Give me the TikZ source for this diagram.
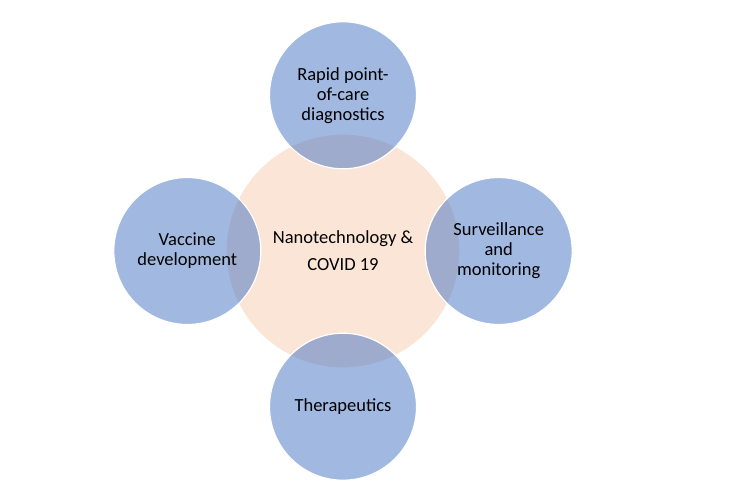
\documentclass[tikz,border=0pt]{standalone}
\usepackage{fontspec}
\setmainfont{Carlito}
\usetikzlibrary{positioning}
\usetikzlibrary{shapes}
\definecolor{peach}{HTML}{FBE5D6}
\definecolor{nanoblue}{HTML}{4472C4}
\tikzset{
  node distance = -36pt,
  hub/.style = {circle,
                fill = peach,
                draw = white,
                line width = 1.2pt,
                align = center,
                font = \fontsize{18.5}{20}\selectfont,
                minimum size = 234pt,
                inner sep = 0pt},
  topic/.style = {circle,
                  fill = nanoblue,
                  fill opacity = 0.5,
                  text opacity = 1,
                  draw = white,
                  line width = 1.2pt,
                  align = center,
                  font = \fontsize{18.5}{20}\selectfont,
                  minimum size = 147pt,
                  inner sep = 0pt}
}

\begin{document}
\begin{tikzpicture}

\useasboundingbox (0,0) rectangle (746pt,-485pt);

\node[hub](core) at (343pt,-251pt){Nanotechnology \&\\[7pt]COVID 19};

\node[topic](diagnostics)[above = of core]{Rapid point-\\of-care\\diagnostics};

\node[topic](vaccine)[left = of core]{Vaccine\\development};

\node[topic](surveillance)[right = of core]{Surveillance\\and\\monitoring};

\node[topic](therapeutics)[below = of core]{Therapeutics};

\end{tikzpicture}
\end{document}
